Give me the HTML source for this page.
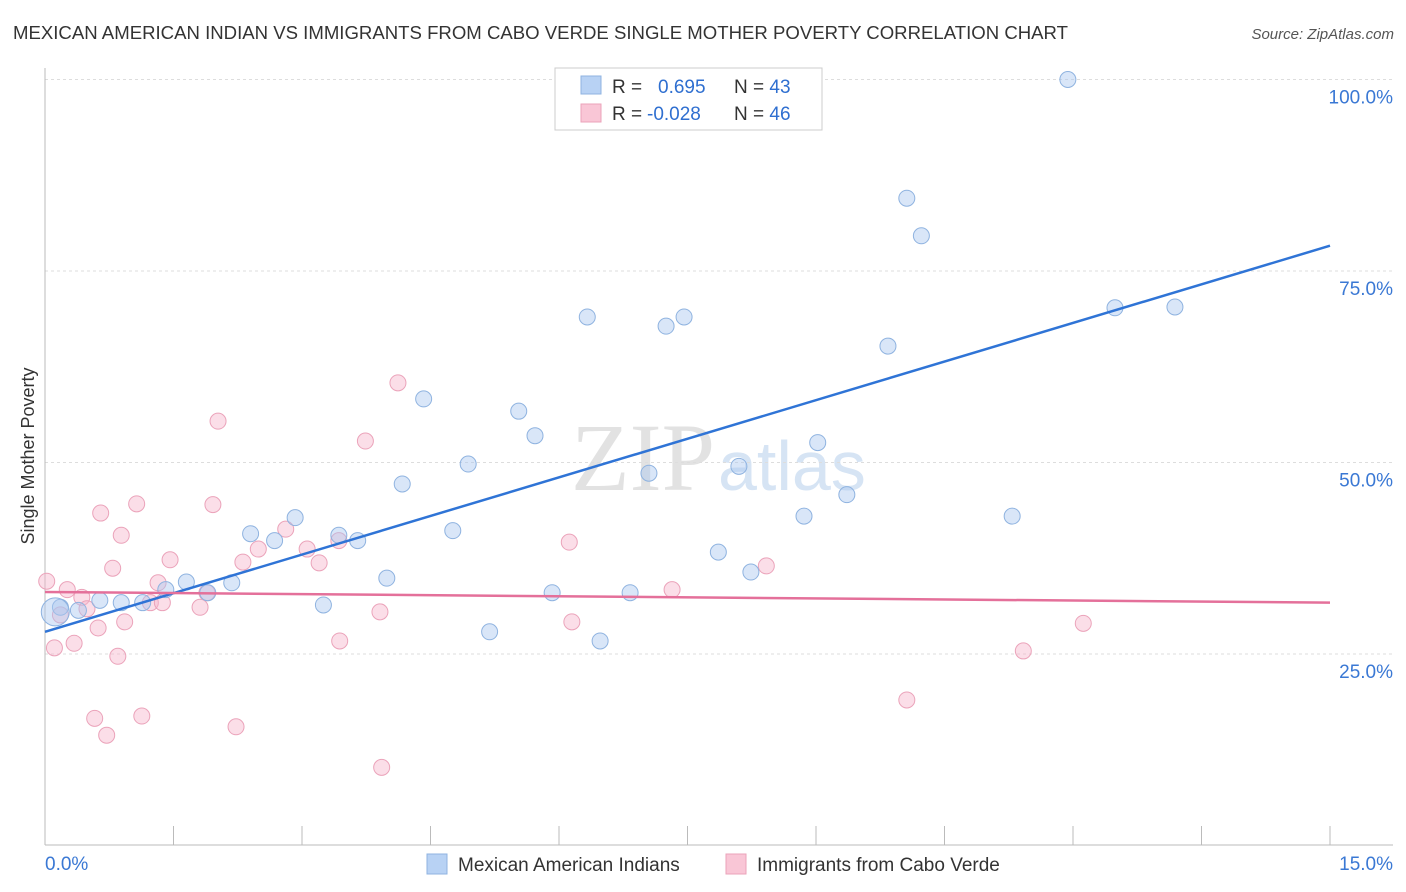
<!DOCTYPE html>
<html><head><meta charset="utf-8"><style>
body{margin:0;background:#fff;font-family:"Liberation Sans",sans-serif;}
svg{display:block}
</style></head><body>
<svg id="chart" width="1406" height="892">
<text x="13" y="39" font-size="18" fill="#333" textLength="1055" lengthAdjust="spacingAndGlyphs">MEXICAN AMERICAN INDIAN VS IMMIGRANTS FROM CABO VERDE SINGLE MOTHER POVERTY CORRELATION CHART</text>
<text x="1394" y="39" font-size="15" fill="#555" font-style="italic" text-anchor="end">Source: ZipAtlas.com</text>
<text x="715" y="490" font-size="96" fill="#e2e2e2" text-anchor="end" font-family="Liberation Serif">ZIP</text>
<text x="718" y="490" font-size="70" fill="#d6e4f4">atlas</text>
<g id="grid"></g><g id="axes"></g><g id="marks"></g>
<text transform="translate(34,456) rotate(-90)" font-size="18" fill="#333" text-anchor="middle">Single Mother Poverty</text>
<g>
<rect x="555" y="68" width="267" height="62" fill="#fff" stroke="#ccc"/>
<rect x="581" y="76" width="20" height="18" fill="#b8d2f4" stroke="#8fb3e0"/>
<rect x="581" y="104" width="20" height="18" fill="#f9c6d6" stroke="#eba3ba"/>
<text x="612" y="93" font-size="19" fill="#333">R = <tspan fill="#2f6fd0" x="658">0.695</tspan><tspan x="734" fill="#333">N = </tspan><tspan fill="#2f6fd0">43</tspan></text>
<text x="612" y="120" font-size="19" fill="#333">R = <tspan fill="#2f6fd0" x="647">-0.028</tspan><tspan x="734" fill="#333">N = </tspan><tspan fill="#2f6fd0">46</tspan></text>
</g>
<g>
<rect x="427" y="854" width="20" height="20" fill="#b8d2f4" stroke="#8fb3e0"/>
<text x="458" y="871" font-size="19" fill="#333">Mexican American Indians</text>
<rect x="726" y="854" width="20" height="20" fill="#f9c6d6" stroke="#eba3ba"/>
<text x="757" y="871" font-size="19" fill="#333">Immigrants from Cabo Verde</text>
</g>
</svg>
<script>
const yTicks=[25,50,75,100];
const yTickLabels=["25.0%","50.0%","75.0%","100.0%"];
const xTickCount=10;
const blueX=[11.94,10.06,10.23,12.49,13.19,6.33,7.25,7.46,9.84,4.42,5.53,5.72,9.02,4.94,8.10,7.05,9.36,4.17,8.86,11.29,2.92,2.40,4.76,3.43,3.65,2.68,7.86,8.24,3.99,1.65,2.18,1.41,5.92,6.83,1.90,3.25,0.64,0.89,1.14,0.18,0.39,5.19,6.48,0.12];
const blueY=[100.0,84.5,79.6,70.2,70.3,69.0,67.8,69.0,65.2,58.3,56.7,53.5,52.6,49.8,49.5,48.6,45.8,47.2,43.0,43.0,42.8,40.7,41.1,40.5,39.8,39.8,38.3,35.7,34.9,34.4,34.3,33.4,33.0,33.0,33.0,31.4,32.0,31.7,31.7,31.1,30.7,27.9,26.7,30.5];
const pinkX=[4.12,2.02,3.74,1.07,1.96,0.65,0.89,6.12,0.79,1.46,2.31,2.49,3.06,2.81,3.43,3.20,8.42,0.02,0.26,1.32,0.43,7.32,1.89,1.23,1.37,1.81,0.49,0.18,3.91,0.93,6.15,0.62,12.12,0.34,3.44,0.11,0.85,11.42,10.06,0.58,1.13,0.72,2.23,3.93];
const pinkY=[60.4,55.4,52.8,44.6,44.5,43.4,40.5,39.6,36.2,37.3,37.0,38.7,38.7,41.3,39.8,36.9,36.5,34.5,33.4,34.3,32.4,33.4,33.0,31.7,31.7,31.1,30.9,30.1,30.5,29.2,29.2,28.4,29.0,26.4,26.7,25.8,24.7,25.4,19.0,16.6,16.9,14.4,15.5,10.2];
const blueTrend=[27.9,78.3];
const pinkTrend=[33.1,31.7];
const NS="http://www.w3.org/2000/svg";
const xs=v=>45+v*(1285/15);
const ys=v=>845.5-v*7.66;
function mk(tag,attrs,parent){const e=document.createElementNS(NS,tag);for(const k in attrs)e.setAttribute(k,attrs[k]);document.getElementById(parent).appendChild(e);return e;}
yTicks.forEach((t,i)=>{
 const g=mk('line',{x1:45,x2:1393,y1:ys(t),y2:ys(t),stroke:'#ddd','stroke-dasharray':'3,3'},'grid');
 
 
 const l=mk('text',{x:1393,y:ys(t)+24,'font-size':19,fill:'#3a78d4','text-anchor':'end'},'axes');
 l.textContent=yTickLabels[i];
 
 
});
const ax=mk('line',{x1:45,x2:45,y1:68,y2:845,stroke:'#bbb'},'axes');


const bx=mk('line',{x1:45,x2:1393,y1:845,y2:845,stroke:'#bbb'},'axes');


for(let i=1;i<=xTickCount;i++){
 const t=mk('line',{x1:xs(i*1.5),x2:xs(i*1.5),y1:826,y2:845,stroke:'#bbb'},'axes');
 
 
}
const x0=mk('text',{x:45,y:870,'font-size':19,fill:'#3a78d4'},'axes');x0.textContent='0.0%';


const x1=mk('text',{x:1393,y:870,'font-size':19,fill:'#3a78d4','text-anchor':'end'},'axes');x1.textContent='15.0%';


pinkX.forEach((x,i)=>{
 const c=mk('circle',{cx:xs(x),cy:ys(pinkY[i]),r:8,fill:'rgba(247,182,204,0.45)',stroke:'#eba3ba','stroke-width':1},'marks');
 
 
});
blueX.forEach((x,i)=>{
 const big=i===blueX.length-1;
 const c=mk('circle',{cx:xs(x),cy:ys(blueY[i]),r:big?14:8,fill:'rgba(170,200,240,0.45)',stroke:'#8fb3e0','stroke-width':1},'marks');
 
 
});
const bl=mk('line',{x1:xs(0),y1:ys(blueTrend[0]),x2:xs(15),y2:ys(blueTrend[1]),stroke:'#2f74d6','stroke-width':2.5},'marks');


const pl=mk('line',{x1:xs(0),y1:ys(pinkTrend[0]),x2:xs(15),y2:ys(pinkTrend[1]),stroke:'#e4709a','stroke-width':2.5},'marks');


</script>
</body></html>
